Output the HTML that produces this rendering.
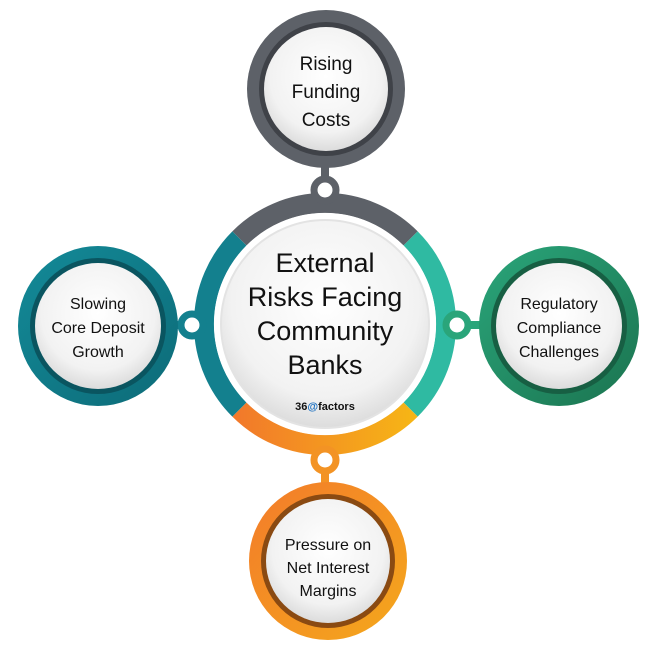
<!DOCTYPE html>
<html><head><meta charset="utf-8"><style>
html,body{margin:0;padding:0;background:#fff;}
svg{display:block;}
text{font-family:"Liberation Sans",sans-serif;fill:#111;text-anchor:middle;}
</style></head><body>
<svg width="650" height="650" viewBox="0 0 650 650" xmlns="http://www.w3.org/2000/svg">
<defs>
<radialGradient id="w" cx="50%" cy="40%" r="60%"><stop offset="0" stop-color="#ffffff"/><stop offset="0.75" stop-color="#f2f2f2"/><stop offset="1" stop-color="#dcdcdc"/></radialGradient>
<linearGradient id="og" x1="0" y1="0" x2="1" y2="0"><stop offset="0" stop-color="#f27a2a"/><stop offset="1" stop-color="#f6b416"/></linearGradient>
<linearGradient id="og2" x1="0" y1="0" x2="1" y2="1"><stop offset="0" stop-color="#f37b2a"/><stop offset="1" stop-color="#f4a81c"/></linearGradient>
<linearGradient id="gg" x1="0" y1="0" x2="1" y2="1"><stop offset="0" stop-color="#2aa57a"/><stop offset="1" stop-color="#1b7450"/></linearGradient>
<linearGradient id="tg" x1="0" y1="0" x2="1" y2="1"><stop offset="0" stop-color="#138a98"/><stop offset="1" stop-color="#0d6b78"/></linearGradient>
</defs>

<!-- center ring -->
<g fill="none" stroke-width="20">
<path d="M239.4 238.4 A121 121 0 0 1 410.6 238.4" stroke="#5d6168"/>
<path d="M410.6 238.4 A121 121 0 0 1 410.6 409.6" stroke="#2fbaa2"/>
<path d="M410.6 409.6 A121 121 0 0 1 239.4 409.6" stroke="url(#og)"/>
<path d="M239.4 409.6 A121 121 0 0 1 239.4 238.4" stroke="#13808e"/>
</g>
<circle cx="325" cy="324" r="111" fill="#fff"/>
<circle cx="325" cy="324" r="104" fill="url(#w)" stroke="#e3e3e3" stroke-width="2"/>
<text font-size="27" x="325" y="272">External</text>
<text font-size="27" x="325" y="306">Risks Facing</text>
<text font-size="27" x="325" y="340">Community</text>
<text font-size="27" x="325" y="374">Banks</text>
<text x="325" y="410" font-size="11" font-weight="bold" style="fill:#111">36<tspan style="fill:#1a6fc0">@</tspan>factors</text>

<!-- connectors -->
<g stroke-width="8" fill="none">
<line x1="325" y1="165" x2="325" y2="195" stroke="#5d6168"/>
<line x1="325" y1="460" x2="325" y2="485" stroke="#f39324"/>
<line x1="175" y1="325" x2="192" y2="325" stroke="#13808e"/>
<line x1="458" y1="325" x2="482" y2="325" stroke="#2aa57a"/>
</g>
<circle cx="325" cy="190" r="11" fill="#fff" stroke="#5d6168" stroke-width="7"/>
<circle cx="325" cy="460" r="11" fill="#fff" stroke="#f39324" stroke-width="7"/>
<circle cx="192" cy="325" r="11" fill="#fff" stroke="#13808e" stroke-width="7"/>
<circle cx="457" cy="325" r="11" fill="#fff" stroke="#2aa57a" stroke-width="7"/>

<!-- nodes -->
<g>
<circle cx="326" cy="89" r="79" fill="#5d6168"/>
<circle cx="326" cy="89" r="67" fill="#3f4248"/>
<circle cx="326" cy="89" r="62" fill="url(#w)"/>
<text font-size="19" x="326" y="70">Rising</text>
<text font-size="19" x="326" y="98">Funding</text>
<text font-size="19" x="326" y="126">Costs</text>

<circle cx="98" cy="326" r="80" fill="url(#tg)"/>
<circle cx="98" cy="326" r="68" fill="#0a5560"/>
<circle cx="98" cy="326" r="63" fill="url(#w)"/>
<text font-size="16" x="98" y="309">Slowing</text>
<text font-size="16" x="98" y="333">Core Deposit</text>
<text font-size="16" x="98" y="357">Growth</text>

<circle cx="559" cy="326" r="80" fill="url(#gg)"/>
<circle cx="559" cy="326" r="68" fill="#175f43"/>
<circle cx="559" cy="326" r="63" fill="url(#w)"/>
<text font-size="16" x="559" y="309">Regulatory</text>
<text font-size="16" x="559" y="333">Compliance</text>
<text font-size="16" x="559" y="357">Challenges</text>

<circle cx="328" cy="561" r="79" fill="url(#og2)"/>
<circle cx="328" cy="561" r="67" fill="#8a4a12"/>
<circle cx="328" cy="561" r="62" fill="url(#w)"/>
<text font-size="16" x="328" y="550">Pressure on</text>
<text font-size="16" x="328" y="573">Net Interest</text>
<text font-size="16" x="328" y="596">Margins</text>
</g>
</svg>
</body></html>
